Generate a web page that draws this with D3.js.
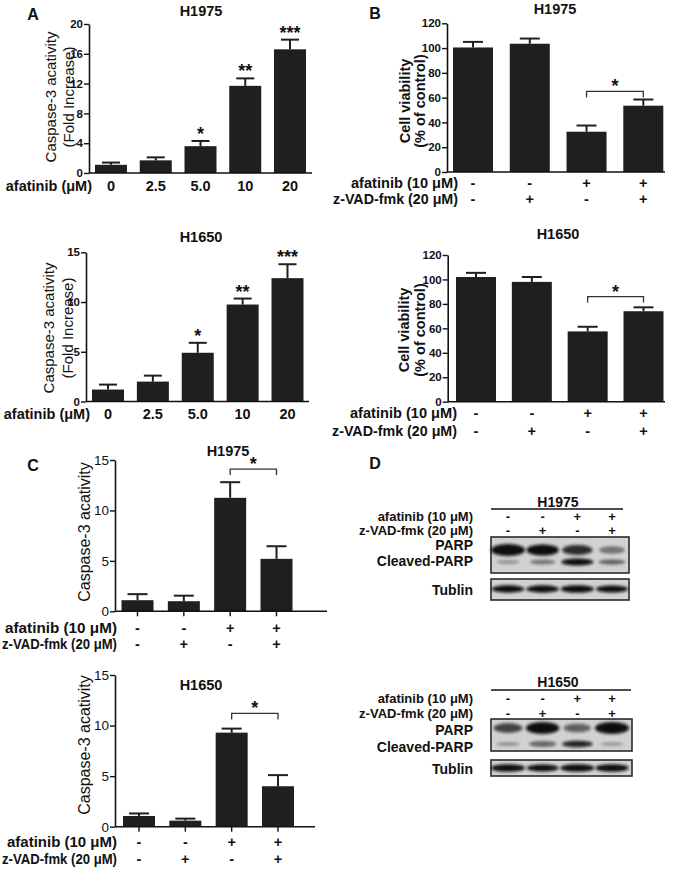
<!DOCTYPE html>
<html><head><meta charset="utf-8">
<script src="https://cdn.jsdelivr.net/npm/d3@7"></script>
<style>body{margin:0;background:#fff}svg{display:block}</style>
</head><body>
<svg id="fig" width="675" height="870"></svg>
<script>
// ---------------- data ----------------
const doseLabels = ["0", "2.5", "5.0", "10", "20"];
const aH1975Mean = [1.1, 1.7, 3.6, 11.7, 16.6];
const aH1975Sem  = [0.3, 0.4, 0.7, 1.0, 1.3];
const aH1975Sig  = ["", "", "*", "**", "***"];
const aH1650Mean = [1.2, 2.0, 4.9, 9.75, 12.4];
const aH1650Sem  = [0.5, 0.6, 1.0, 0.6, 1.4];
const aH1650Sig  = ["", "", "*", "**", "***"];

const afatinibSigns = ["-", "-", "+", "+"];
const zvadSigns     = ["-", "+", "-", "+"];

const bH1975Mean = [100.5, 103.5, 32.5, 53.5];
const bH1975Sem  = [4.5, 4.2, 5.0, 5.0];
const bH1650Mean = [102, 98, 57.5, 74];
const bH1650Sem  = [3.4, 4.0, 3.8, 3.2];

const cH1975Mean = [1.1, 1.0, 11.25, 5.2];
const cH1975Sem  = [0.6, 0.55, 1.55, 1.25];
const cH1650Mean = [1.06, 0.6, 9.3, 4.0];
const cH1650Sem  = [0.25, 0.2, 0.4, 1.1];

const bracketBTop = 65, bracketBBottom = 86, bracketCTop = 14.1, bracketCBottom = 11.2;

const yTicksA1 = [0, 4, 8, 12, 16, 20];
const yTicksA2 = [0, 5, 10, 15];
const yTicksB  = [0, 20, 40, 60, 80, 100, 120];
const yTicksC  = [0, 5, 10, 15];

// western blot band intensities (0..1), lanes 1-4
const lanes = [0, 1, 2, 3];
const h1975Parp    = [1.0, 0.85, 0.7, 0.3];
const h1975Cleaved = [0.15, 0.3, 0.85, 0.4];
const h1975Tublin  = [0.9, 0.9, 0.95, 0.85];
const h1650Parp    = [0.6, 0.95, 0.45, 1.0];
const h1650Cleaved = [0.15, 0.45, 0.75, 0.12];
const h1650Tublin  = [1.0, 0.85, 1.0, 0.95];

// ---------------- drawing ----------------
const FONT = "'Liberation Sans', Arial, Helvetica, sans-serif";
const svg = d3.select("#fig").style("font-family", FONT);
const BAR = "#1f1f1f";

function txt(x, y, s, o = {}) {
  const t = svg.append("text").attr("x", x).attr("y", y)
    .attr("text-anchor", o.anchor || "middle")
    .attr("dominant-baseline", o.baseline || "central")
    .attr("font-size", o.size || 14.5)
    .attr("font-weight", o.weight || "bold")
    .attr("fill", "#111")
    .text(s);
  if (o.len) t.attr("textLength", o.len).attr("lengthAdjust", "spacingAndGlyphs");
  return t;
}

function barChart(o) {
  const g = svg.append("g");
  const n = o.means.length;
  const x = d3.scalePoint().domain(d3.range(n)).range(o.centers);
  const y = d3.scaleLinear().domain([0, o.max]).range([o.y0, o.y1]);
  g.selectAll(null).data(o.means).join("rect")
    .attr("x", (d, i) => x(i) - o.barW / 2)
    .attr("y", d => y(d))
    .attr("width", o.barW)
    .attr("height", d => y(0) - y(d))
    .attr("fill", BAR);
  const eb = g.selectAll(null).data(o.means.map((m, i) => ({m, s: o.sems[i], i}))).join("g");
  eb.append("line")
    .attr("x1", d => x(d.i)).attr("x2", d => x(d.i))
    .attr("y1", d => y(d.m)).attr("y2", d => y(d.m + d.s))
    .attr("stroke", BAR).attr("stroke-width", 2);
  eb.append("line")
    .attr("x1", d => x(d.i) - o.capW / 2).attr("x2", d => x(d.i) + o.capW / 2)
    .attr("y1", d => y(d.m + d.s)).attr("y2", d => y(d.m + d.s))
    .attr("stroke", BAR).attr("stroke-width", 2);
  if (o.sig) {
    g.selectAll(null).data(o.sig).join("text")
      .attr("x", (d, i) => x(i))
      .attr("y", (d, i) => y(o.means[i] + o.sems[i]) - 1)
      .attr("text-anchor", "middle")
      .attr("font-size", 18).attr("font-weight", "bold").attr("fill", "#111")
      .text(d => d);
  }
  if (o.bracket != null) {
    const by = y(o.bracket);
    const xa = x(o.bracketPair[0]), xb = x(o.bracketPair[1]);
    g.append("path")
      .attr("d", `M${xa},${by + 6}V${by}H${xb}V${by + 6}`)
      .attr("fill", "none").attr("stroke", "#333").attr("stroke-width", 1.3);
    g.append("text").attr("x", (xa + xb) / 2).attr("y", by + 1)
      .attr("text-anchor", "middle").attr("font-size", 18).attr("font-weight", "bold")
      .attr("fill", "#111").text("*");
  }
  const ax = g.append("g").attr("transform", `translate(${o.axisX},0)`)
    .call(d3.axisLeft(y).tickValues(o.ticks).tickSize(5).tickSizeOuter(0).tickPadding(1));
  ax.select(".domain").attr("stroke", "#111").attr("stroke-width", 1.6);
  ax.selectAll(".tick line").attr("stroke", "#111").attr("stroke-width", 1.4);
  ax.selectAll(".tick text").attr("fill", "#111")
    .attr("font-family", FONT).attr("font-size", o.tickSize)
    .attr("font-weight", o.tickWeight);
  g.append("line").attr("x1", o.axisX).attr("x2", o.axisEnd)
    .attr("y1", y(0)).attr("y2", y(0)).attr("stroke", "#111").attr("stroke-width", 1.6);
  if (o.xTicks) {
    g.selectAll(null).data(d3.range(n)).join("line")
      .attr("x1", i => x(i)).attr("x2", i => x(i))
      .attr("y1", y(0)).attr("y2", y(0) + 5)
      .attr("stroke", "#111").attr("stroke-width", 1.4);
  }
  return x;
}

function rotLabel(cx, cy, s, size, weight) {
  svg.append("text").attr("transform", `translate(${cx},${cy}) rotate(-90)`)
    .attr("text-anchor", "middle").attr("dominant-baseline", "central")
    .attr("font-size", size).attr("font-weight", weight).attr("fill", "#111").text(s);
}

function signRows(x, labelRight, y1, y2, size, lens) {
  txt(labelRight, y1, "afatinib (10 μM)", {anchor: "end", size, len: lens && lens[0]});
  txt(labelRight, y2, "z-VAD-fmk (20 μM)", {anchor: "end", size, len: lens && lens[1]});
  afatinibSigns.forEach((s, i) => txt(x(i), y1, s, {size}));
  zvadSigns.forEach((s, i) => txt(x(i), y2, s, {size}));
}

// ---- Panel A ----
txt(33, 14, "A", {size: 16});
txt(201, 11, "H1975", {size: 14.5});
let xa = barChart({means: aH1975Mean, sems: aH1975Sem, sig: aH1975Sig, centers: [111, 290],
  barW: 32, capW: 18, axisX: 89, axisEnd: 312, y0: 173, y1: 24, max: 20, ticks: yTicksA1,
  tickSize: 11.5, tickWeight: "bold"});
rotLabel(50, 97, "Caspase-3 acativity", 15, "normal");
rotLabel(68, 97, "(Fold Increase)", 15, "normal");
txt(92, 186, "afatinib (μM)", {anchor: "end"});
doseLabels.forEach((s, i) => txt(xa(i), 186, s));

txt(201, 237, "H1650", {size: 14.5});
xa = barChart({means: aH1650Mean, sems: aH1650Sem, sig: aH1650Sig, centers: [108, 287.5],
  barW: 32, capW: 18, axisX: 86, axisEnd: 309, y0: 401.5, y1: 252.3, max: 15, ticks: yTicksA2,
  tickSize: 11.5, tickWeight: "bold"});
rotLabel(48, 328, "Caspase-3 acativity", 15, "normal");
rotLabel(67, 328, "(Fold Increase)", 15, "normal");
txt(90, 414, "afatinib (μM)", {anchor: "end"});
doseLabels.forEach((s, i) => txt(xa(i), 414, s));

// ---- Panel B ----
txt(375, 13, "B", {size: 16});
txt(555, 9, "H1975", {size: 14.5});
let xb = barChart({means: bH1975Mean, sems: bH1975Sem, centers: [473, 643.3],
  barW: 40, capW: 20, axisX: 447, axisEnd: 665, y0: 172, y1: 23.3, max: 120, ticks: yTicksB,
  tickSize: 11.5, tickWeight: "bold", bracket: bracketBTop, bracketPair: [2, 3]});
rotLabel(405, 101, "Cell viability", 14.5, "bold");
rotLabel(420, 101, "(% of control)", 14.5, "bold");
signRows(xb, 458, 183, 199, 14.5, [107, 125]);

txt(558, 234, "H1650", {size: 14.5});
xb = barChart({means: bH1650Mean, sems: bH1650Sem, centers: [476, 643.5],
  barW: 40, capW: 20, axisX: 447.7, axisEnd: 665, y0: 401.7, y1: 255, max: 120, ticks: yTicksB,
  tickSize: 11.5, tickWeight: "bold", bracket: bracketBBottom, bracketPair: [2, 3]});
rotLabel(404, 330, "Cell viability", 14.5, "bold");
rotLabel(420, 330, "(% of control)", 14.5, "bold");
signRows(xb, 457, 413, 431, 14.5, [107, 125]);

// ---- Panel C ----
txt(33, 465, "C", {size: 16});
txt(228, 451, "H1975", {size: 14.5});
let xc = barChart({means: cH1975Mean, sems: cH1975Sem, centers: [137.5, 276.5],
  barW: 32, capW: 20, axisX: 115, axisEnd: 327, y0: 611.3, y1: 460, max: 15, ticks: yTicksC,
  tickSize: 13.5, tickWeight: "normal", xTicks: true, bracket: bracketCTop, bracketPair: [2, 3]});
rotLabel(84, 532, "Caspase-3 acativity", 16, "normal");
signRows(xc, 117, 628, 644, 14.5, [112, 115]);

txt(201, 685, "H1650", {size: 14.5});
xc = barChart({means: cH1650Mean, sems: cH1650Sem, centers: [139, 278],
  barW: 32, capW: 20, axisX: 115, axisEnd: 315, y0: 826.7, y1: 675, max: 15, ticks: yTicksC,
  tickSize: 13.5, tickWeight: "normal", xTicks: true, bracket: bracketCBottom, bracketPair: [2, 3]});
rotLabel(84, 745, "Caspase-3 acativity", 16, "normal");
signRows(xc, 117, 842, 859, 14.5, [110, 115]);

// ---- Panel D (western blots) ----
txt(375, 463, "D", {size: 16});
const defs = svg.append("defs");
defs.append("filter").attr("id", "blur").attr("x", "-50%").attr("y", "-100%")
  .attr("width", "200%").attr("height", "300%")
  .append("feGaussianBlur").attr("stdDeviation", 1.8);

function blot(o) {
  const lx = d3.scalePoint().domain(lanes).range([508, 612]);
  txt(558, o.headerY, o.title, {size: 14});
  svg.append("line").attr("x1", 491).attr("x2", o.lineEnd).attr("y1", o.lineY).attr("y2", o.lineY)
    .attr("stroke", "#111").attr("stroke-width", 1.3);
  signRows(lx, 473, o.row1, o.row2, 13);
  const boxes = [
    {y0: o.parpBox[0], y1: o.parpBox[1], bands: [[o.parp, o.parpY, 5.5], [o.cleaved, o.cleavedY, 3.5]]},
    {y0: o.tubBox[0], y1: o.tubBox[1], bands: [[o.tub, o.tubY, 3.5]]}
  ];
  boxes.forEach(b => {
    svg.append("rect").attr("x", 491).attr("y", b.y0).attr("width", o.boxRight - 491)
      .attr("height", b.y1 - b.y0).attr("fill", "#d2d2d2").attr("stroke", "#2a2a2a").attr("stroke-width", 1.6);
    const bg = svg.append("g").attr("filter", "url(#blur)");
    b.bands.forEach(([vals, by, h]) => {
      bg.selectAll(null).data(vals).join("ellipse")
        .attr("cx", (d, i) => lx(i)).attr("cy", by)
        .attr("rx", d => 11 + 6 * d).attr("ry", d => h * (0.5 + 0.6 * d))
        .attr("fill", "#0b0b0b").attr("fill-opacity", d => Math.min(1, 0.15 + d));
    });
  });
  txt(473, o.parpLabelY, "PARP", {anchor: "end", size: 14});
  txt(473, o.cleavedLabelY, "Cleaved-PARP", {anchor: "end", size: 14});
  txt(473, o.tubY + 1, "Tublin", {anchor: "end", size: 14});
}

blot({title: "H1975", headerY: 502, lineY: 509, lineEnd: 623, row1: 516, row2: 530,
  parpBox: [537, 573], tubBox: [579, 600], boxRight: 629,
  parp: h1975Parp, parpY: 550, cleaved: h1975Cleaved, cleavedY: 562, tub: h1975Tublin, tubY: 589,
  parpLabelY: 545, cleavedLabelY: 561});
blot({title: "H1650", headerY: 682, lineY: 690, lineEnd: 631, row1: 698, row2: 713,
  parpBox: [719, 751], tubBox: [760, 776], boxRight: 632,
  parp: h1650Parp, parpY: 728, cleaved: h1650Cleaved, cleavedY: 744, tub: h1650Tublin, tubY: 768,
  parpLabelY: 730, cleavedLabelY: 747});
</script>
</body></html>
